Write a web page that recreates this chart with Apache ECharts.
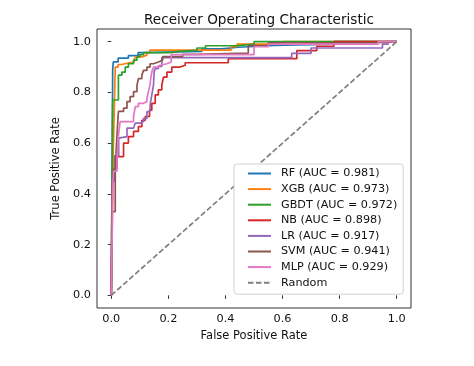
<!DOCTYPE html>
<html lang="en">
<head>
    <meta charset="UTF-8">
    <title>Receiver Operating Characteristic</title>
    <style>
        html, body { margin: 0; padding: 0; background: #fff; }
        #chart { width: 474px; height: 366px; }
    </style>
</head>
<body>
    <div id="chart"></div>

    <script src="https://cdn.jsdelivr.net/npm/echarts@6/dist/echarts.min.js"></script>
    <script>
        // ROC points: [fpr, tpr] corners of each step
        const modelNames = ['RF', 'XGB', 'GBDT', 'NB', 'LR', 'SVM', 'MLP'];
        const aucValues = [0.981, 0.973, 0.972, 0.898, 0.917, 0.941, 0.929];
        const modelColors = ['#1f77b4', '#ff7f0e', '#2ca02c', '#d62728', '#9467bd', '#8c564b', '#e377c2'];

        const rfRoc = [[0, 0], [0.005, 0.89], [0.007, 0.92], [0.024, 0.935], [0.06, 0.945], [0.094, 0.957],
            [0.119, 0.962], [0.317, 0.972], [0.387, 0.978], [0.444, 0.985], [0.57, 0.99], [0.78, 1.0], [1, 1]];
        const xgbRoc = [[0, 0], [0.007, 0.57], [0.014, 0.9], [0.024, 0.91], [0.037, 0.915], [0.055, 0.92],
            [0.08, 0.93], [0.085, 0.94], [0.107, 0.947], [0.125, 0.957], [0.135, 0.967], [0.42, 0.98],
            [0.44, 0.99], [0.6, 1.0], [1, 1]];
        const gbdtRoc = [[0, 0], [0.005, 0.77], [0.025, 0.868], [0.037, 0.88], [0.049, 0.9], [0.06, 0.913],
            [0.078, 0.927], [0.09, 0.94], [0.1, 0.949], [0.113, 0.957], [0.207, 0.962], [0.235, 0.966],
            [0.3, 0.975], [0.33, 0.984], [0.444, 0.99], [0.5, 1.0], [1, 1]];
        const nbRoc = [[0, 0], [0.003, 0.43], [0.01, 0.5], [0.02, 0.547], [0.043, 0.6], [0.06, 0.626],
            [0.078, 0.646], [0.095, 0.665], [0.107, 0.69], [0.119, 0.705], [0.134, 0.73], [0.142, 0.757],
            [0.154, 0.79], [0.165, 0.81], [0.177, 0.83], [0.183, 0.86], [0.195, 0.88], [0.212, 0.9],
            [0.241, 0.907], [0.259, 0.917], [0.41, 0.933], [0.65, 0.965], [0.72, 0.982], [0.78, 1.0], [1, 1]];
        const lrRoc = [[0, 0], [0.004, 0.45], [0.012, 0.55], [0.026, 0.62], [0.031, 0.626], [0.055, 0.659],
            [0.078, 0.659], [0.084, 0.679], [0.101, 0.685], [0.113, 0.698], [0.125, 0.724], [0.136, 0.751],
            [0.142, 0.79], [0.148, 0.83], [0.15, 0.88], [0.154, 0.894], [0.165, 0.903], [0.177, 0.937],
            [0.632, 0.954], [0.7, 0.975], [0.95, 0.99], [0.97, 1.0], [1, 1]];
        const svmRoc = [[0, 0], [0.003, 0.33], [0.014, 0.51], [0.02, 0.63], [0.025, 0.725], [0.043, 0.738],
            [0.055, 0.764], [0.066, 0.783], [0.078, 0.803], [0.09, 0.828], [0.095, 0.854], [0.107, 0.868],
            [0.113, 0.887], [0.125, 0.9], [0.136, 0.913], [0.148, 0.92], [0.165, 0.927], [0.18, 0.941],
            [0.25, 0.95], [0.3, 0.955], [0.48, 0.985], [0.55, 0.995], [0.92, 1.0], [1, 1]];
        const mlpRoc = [[0, 0], [0.006, 0.45], [0.008, 0.49], [0.02, 0.53], [0.024, 0.62], [0.031, 0.685],
            [0.078, 0.705], [0.084, 0.744], [0.095, 0.757], [0.113, 0.764], [0.125, 0.777], [0.13, 0.803],
            [0.136, 0.83], [0.138, 0.854], [0.142, 0.88], [0.148, 0.9], [0.16, 0.907], [0.171, 0.913],
            [0.195, 0.92], [0.21, 0.949], [0.5, 0.98], [0.55, 0.99], [0.935, 1.0], [1, 1]];
        const randomLine = [[0, 0], [1, 1]];

        const rocCurves = [rfRoc, xgbRoc, gbdtRoc, nbRoc, lrRoc, svmRoc, mlpRoc];
        const axisTicks = [0, 0.2, 0.4, 0.6, 0.8, 1.0];

        const font = 'DejaVu Sans';
        const chart = echarts.init(document.getElementById('chart'));

        const series = rocCurves.map((pts, i) => ({
            name: `${modelNames[i]} (AUC = ${aucValues[i].toFixed(3)})`,
            type: 'line',
            step: 'end',
            data: pts,
            symbol: 'none',
            lineStyle: { color: modelColors[i], width: 1.7 },
            itemStyle: { color: modelColors[i] }
        }));
        series.push({
            name: 'Random',
            type: 'line',
            data: randomLine,
            symbol: 'none',
            lineStyle: { color: '#7f7f7f', width: 1.7, type: [5.5, 2.5] },
            itemStyle: { color: '#7f7f7f' }
        });

        const axisCommon = {
            type: 'value',
            min: -0.05,
            max: 1.05,
            nameLocation: 'middle',
            nameTextStyle: { fontFamily: font, fontSize: 11.5, color: '#111' },
            axisLine: { show: false },
            splitLine: { show: false },
            axisTick: { show: true, length: 3.5, customValues: axisTicks, lineStyle: { color: '#333' } },
            axisLabel: {
                customValues: axisTicks,
                fontFamily: font, fontSize: 11.3, color: '#111', margin: 6,
                formatter: v => v.toFixed(1)
            }
        };

        chart.setOption({
            animation: false,
            title: {
                text: 'Receiver Operating Characteristic',
                left: 254,
                top: 8,
                textAlign: 'center',
                textStyle: { fontFamily: font, fontSize: 13.6, fontWeight: 'normal', color: '#111' }
            },
            grid: {
                left: 97, right: 63, top: 29, bottom: 58,
                show: true, borderColor: '#333', borderWidth: 1
            },
            xAxis: Object.assign({}, axisCommon, { name: 'False Positive Rate', nameGap: 22 }),
            yAxis: Object.assign({}, axisCommon, { name: 'True Positive Rate', nameGap: 28 }),
            legend: {
                orient: 'vertical',
                left: 234,
                top: 164,
                padding: [4, 6, 6, 13],
                backgroundColor: '#fff',
                borderColor: '#d0d0d0',
                borderWidth: 1,
                borderRadius: 3,
                itemWidth: 23,
                itemHeight: 12,
                itemGap: 4.6,
                itemStyle: { opacity: 0 },
                textStyle: { fontFamily: font, fontSize: 11.2, color: '#111', padding: [0, 0, 0, 5] },
                data: series.map(s => s.name)
            },
            series: series
        });
    </script>
</body>
</html>
